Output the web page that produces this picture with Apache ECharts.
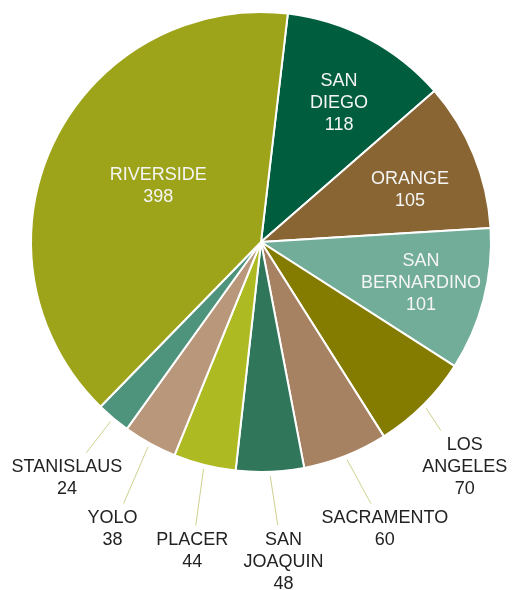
<!DOCTYPE html>
<html>
<head>
<meta charset="utf-8">
<script src="https://cdn.jsdelivr.net/npm/echarts@6/dist/echarts.min.js"></script>
<style>html,body{margin:0;padding:0;background:#fff}#c{width:513px;height:590px}</style>
</head>
<body>
<div id="c"></div>
<script>
// Data, in clockwise order from the start angle
const counties = ['SAN DIEGO','ORANGE','SAN BERNARDINO','LOS ANGELES','SACRAMENTO','SAN JOAQUIN','PLACER','YOLO','STANISLAUS','RIVERSIDE'];
const counts = [118,105,101,70,60,48,44,38,24,398];
const colors = ['#005e3f','#886532','#72ad99','#847c00','#a68262','#2f765a','#aeba22','#b8977a','#4e937c','#9ea41a'];
const insideLabel = [true,true,true,false,false,false,false,false,false,true];

// Layout (styling)
const CX = 261, CY = 242, R = 230;
const START_FROM_TOP = 6.7; // degrees clockwise from 12 o'clock
const labelRadius = [161,158.5,164.7,302,311,319,315,321.6,304,117.7];
const labelAngleAdj = [1.2,2.4,-0.8,2.4,-1.9,-1.8,-1.6,-1.4,-0.3,3.8];
const LABEL_Y_SHIFT = 2;

const total = counts.reduce((a,b)=>a+b,0);
const midAngles = [];
let acc = START_FROM_TOP;
counts.forEach(v => { const span = v/total*360; midAngles.push(acc + span/2); acc += span; });

const chart = echarts.init(document.getElementById('c'), null, {renderer:'canvas'});
chart.setOption({
  animation:false,
  series:[{
    type:'pie',
    center:[CX, CY],
    radius:[0, R],
    startAngle: 90 - START_FROM_TOP,
    clockwise:true,
    avoidLabelOverlap:false,
    itemStyle:{borderColor:'#fff', borderWidth:2},
    label:{
      fontFamily:'Liberation Sans, Arial, sans-serif',
      fontSize:18, lineHeight:22,
      formatter: p => p.name.replace(' ', '\n') + '\n' + p.value
    },
    labelLine:{lineStyle:{color:'#cfd08f', width:1}},
    emphasis:{disabled:true},
    labelLayout: function(params){
      const i = params.dataIndex;
      const mid = midAngles[i]*Math.PI/180;
      const la = (midAngles[i] + labelAngleAdj[i])*Math.PI/180;
      const lr = labelRadius[i];
      const lx = CX + Math.sin(la)*lr, ly = CY - Math.cos(la)*lr + LABEL_Y_SHIFT;
      const out = {x: lx, y: ly, align:'center', verticalAlign:'middle'};
      if (!insideLabel[i]) {
        const dx = Math.sin(mid), dy = -Math.cos(mid);
        const w = params.labelRect.width, h = params.labelRect.height;
        const sx = CX + dx*(R+4), sy = CY + dy*(R+4);
        let vx = lx - sx, vy = ly - sy;
        const len = Math.hypot(vx, vy); vx/=len; vy/=len;
        const t = Math.min(w/2/Math.max(Math.abs(vx),1e-6), h/2/Math.max(Math.abs(vy),1e-6));
        const ex = lx - vx*(t+4), ey = ly - vy*(t+4);
        out.labelLinePoints = [[sx, sy], [ex, ey], [ex, ey]];
      }
      return out;
    },
    data: counties.map((n,i)=>({
      name:n, value:counts[i],
      itemStyle:{color:colors[i]},
      label: insideLabel[i] ? {position:'inside', color:'#f5f5f5'} : {position:'outside', color:'#222'},
      labelLine: insideLabel[i] ? {show:false} : {show:true, length:20, length2:0}
    }))
  }]
});
</script>
</body>
</html>
